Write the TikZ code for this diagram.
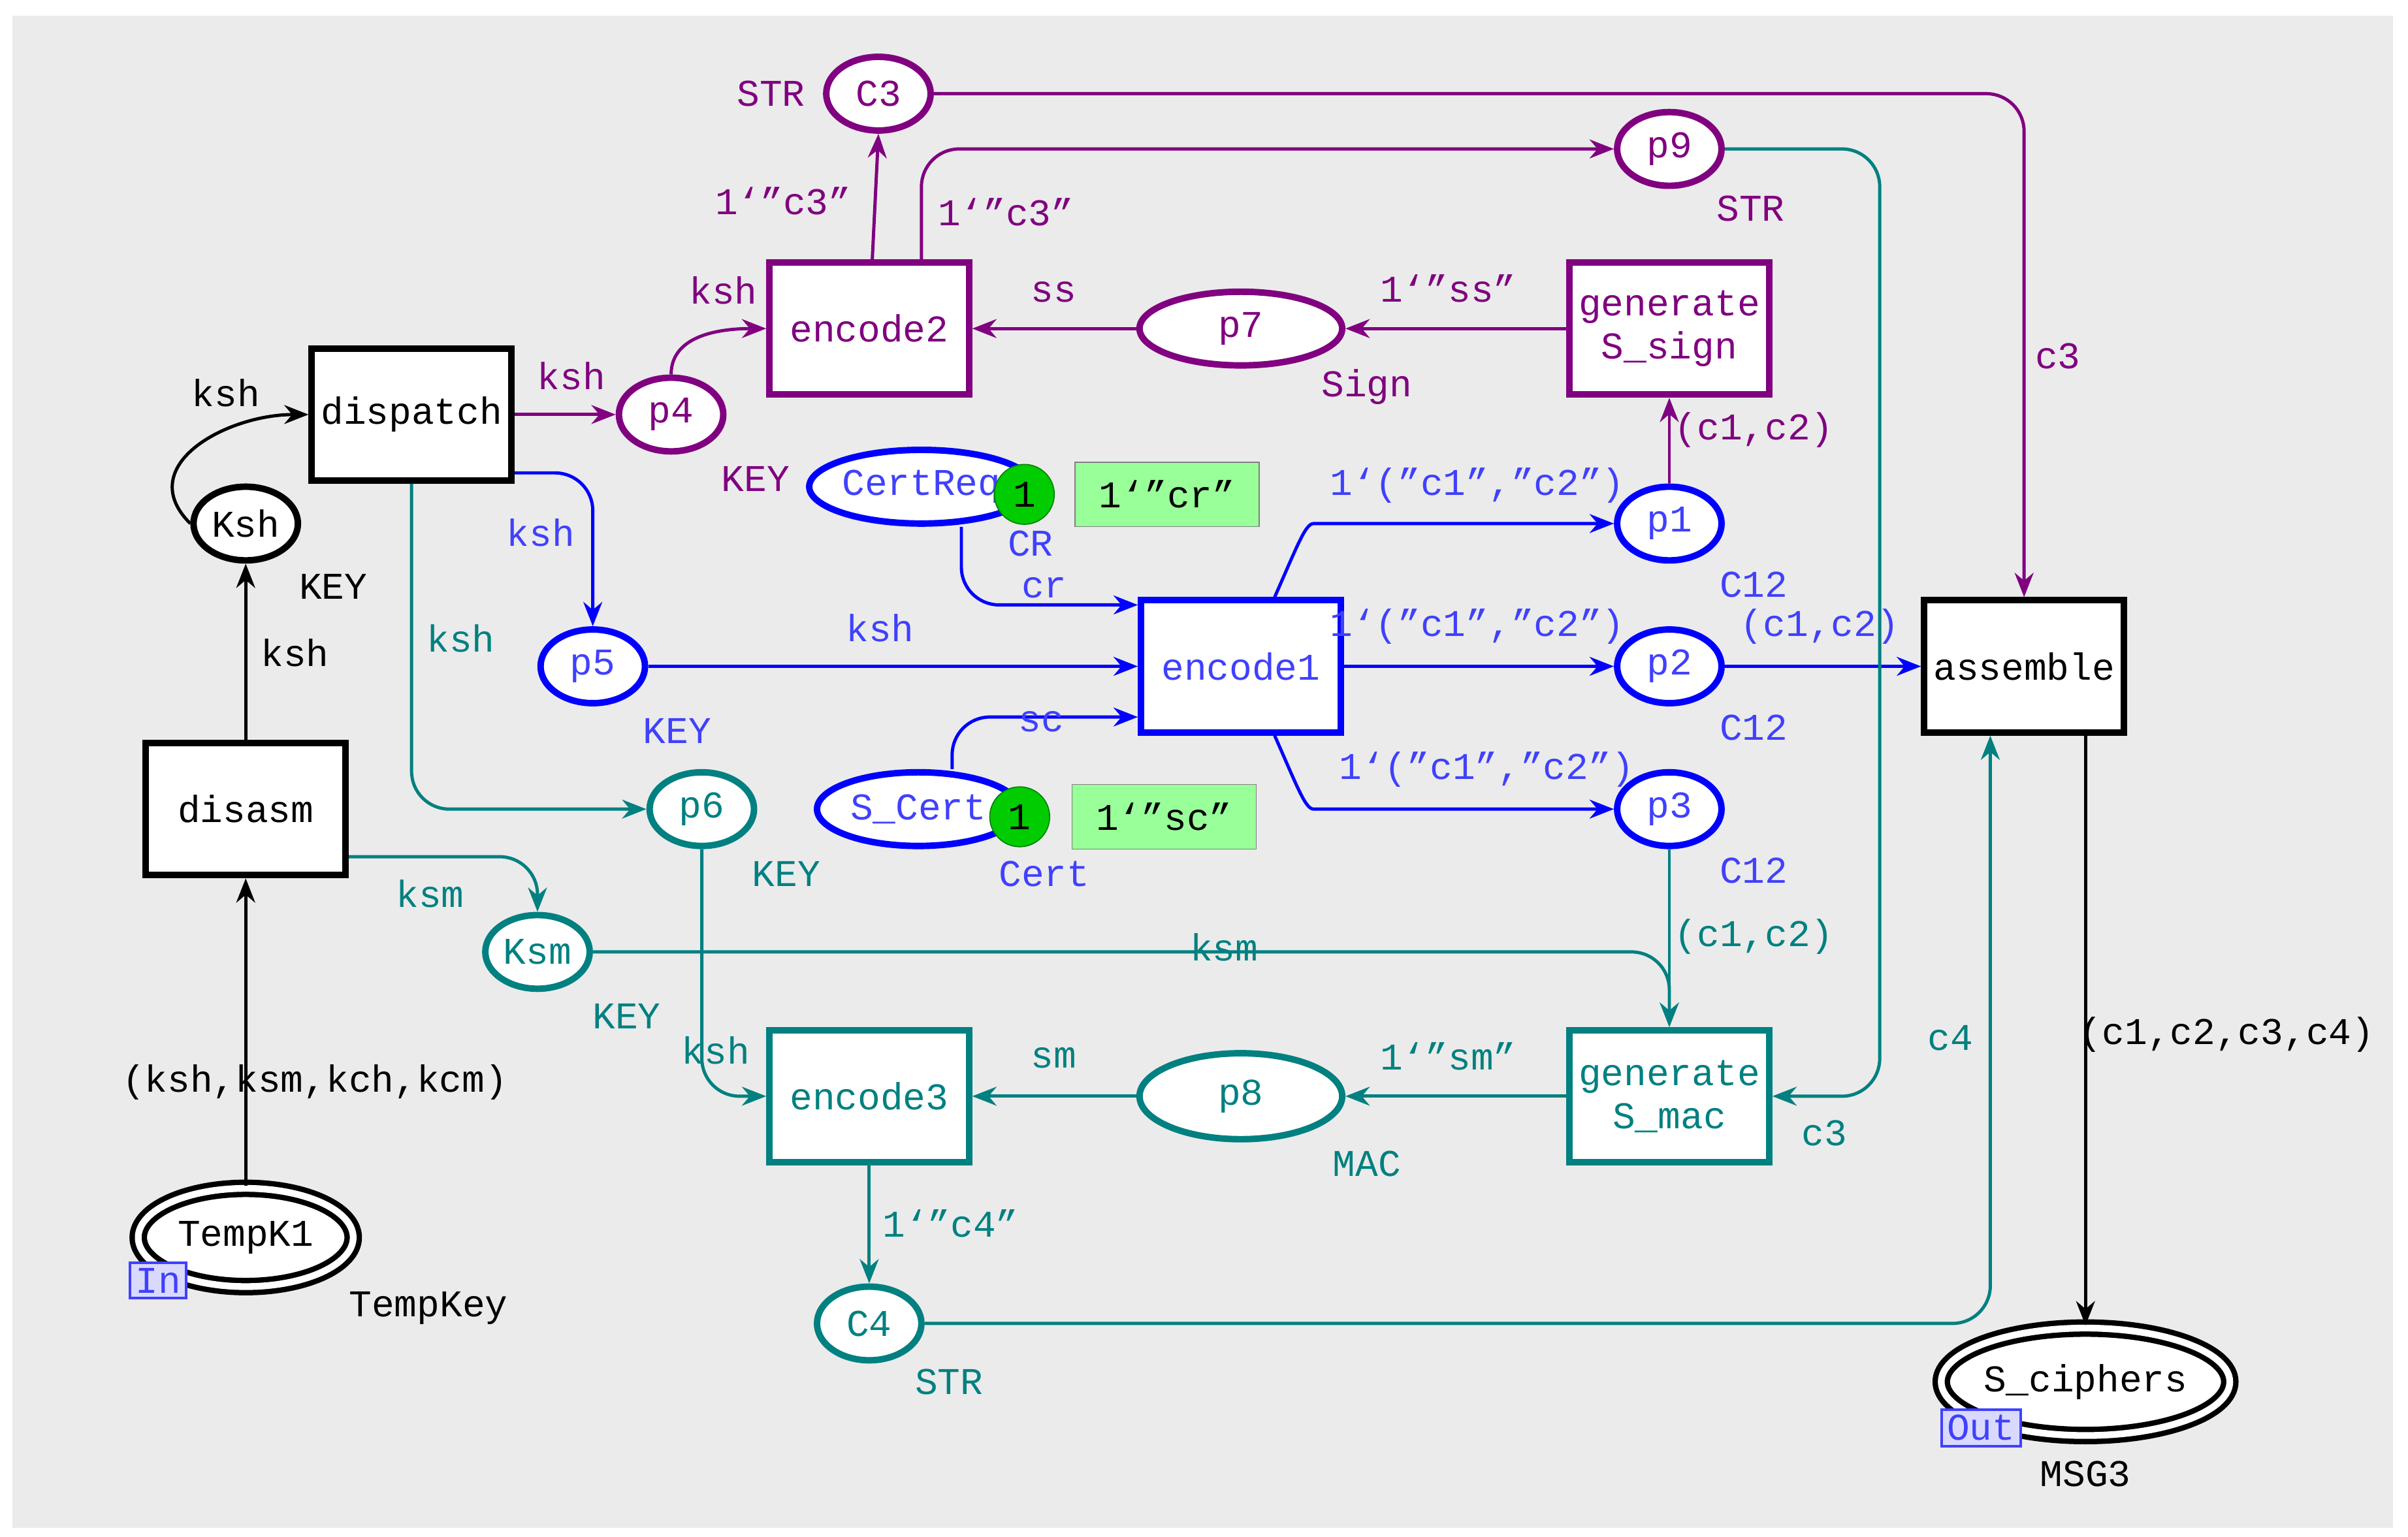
\documentclass[tikz,border=0pt]{standalone}
\usepackage{fontspec}
\setmainfont[Ligatures=ResetAll]{Liberation Mono}
\usetikzlibrary{arrows.meta,shapes.geometric}
\definecolor{pu}{HTML}{800080}
\definecolor{bl}{HTML}{0000FF}
\definecolor{blt}{HTML}{4040FF}
\definecolor{te}{HTML}{008080}
\definecolor{bg}{HTML}{EBEBEB}
\newcommand{\dq}{\symbol{34}}
\newcommand{\bq}{\symbol{96}}
\begin{document}
\begin{tikzpicture}[x=0.02cm,y=-0.02cm,
  every node/.style={font=\fontsize{14}{16}\selectfont},
  tr/.style={draw,line width=2.4pt,fill=white,minimum width=2.6cm,minimum height=1.72cm,inner sep=0pt,align=center},
  pl/.style={draw,line width=2.4pt,fill=white,ellipse,minimum width=1.36cm,minimum height=0.96cm,inner sep=0pt},
  wpl/.style={pl,minimum width=2.64cm},
  io/.style={draw,ellipse,line width=2pt,double,double distance=2.5pt,fill=white,inner sep=0pt},
  tag/.style={draw=blt,fill=blue!15,text=blt,inner sep=2pt,line width=1pt},
  tok/.style={circle,fill=green!80!black,draw=green!50!black,minimum size=0.78cm,inner sep=0pt},
  mk/.style={fill=green!40,draw=gray,minimum width=2.4cm,minimum height=0.84cm,inner sep=0pt},
  a/.style={line width=1.2pt,-{Stealth[length=9pt,width=7pt]},rounded corners=14pt},
  lb/.style={inner sep=0pt}]
\fill[white] (0,0) rectangle (1568,1001);
\fill[bg] (8,10) rectangle (1558,995);
% places
\node[pl,draw=pu,text=pu] (C3) at (572,61) {C3};
\node[pl,draw=pu,text=pu] (p9) at (1087,97) {p9};
\node[wpl,draw=pu,text=pu] (p7) at (808,214) {p7};
\node[pl,draw=pu,text=pu] (p4) at (437,270) {p4};
\node[pl] (Ksh) at (160,341) {Ksh};
\node[wpl,draw=bl,text=blt] (CR) at (600,317) {CertReq};
\node[pl,draw=bl,text=blt] (p1) at (1087,341) {p1};
\node[pl,draw=bl,text=blt] (p5) at (386,434) {p5};
\node[pl,draw=bl,text=blt] (p2) at (1087,434) {p2};
\node[pl,draw=te,text=te] (p6) at (457,527) {p6};
\node[wpl,draw=bl,text=blt] (SC) at (598,527) {S\_Cert};
\node[pl,draw=bl,text=blt] (p3) at (1087,527) {p3};
\node[pl,draw=te,text=te] (Ksm) at (350,620) {Ksm};
\node[wpl,draw=te,text=te,minimum height=1.12cm] (p8) at (808,714) {p8};
\node[pl,draw=te,text=te] (C4) at (566,862) {C4};
\node[io,minimum width=2.8cm,minimum height=1.28cm] (TK) at (160,806) {TempK1};
\node[io,minimum width=3.4cm,minimum height=1.4cm] (SCi) at (1358,900) {S\_ciphers};
\node[tag] (tin) at (103,834) {In};
\node[tag] (tout) at (1290,930) {Out};
% tokens
\node[tok] (t1) at (667,322) {1};
\node[mk] (m1) at (760,322) {1\bq\dq cr\dq};
\node[tok] (t2) at (664,532) {1};
\node[mk] (m2) at (758,532) {1\bq\dq sc\dq};
% transitions
\node[tr,draw=pu,text=pu] (enc2) at (566,214) {encode2};
\node[tr,draw=pu,text=pu] (gss) at (1087,214) {generate\\S\_sign};
\node[tr] (disp) at (268,270) {dispatch};
\node[tr,draw=bl,text=blt] (enc1) at (808,434) {encode1};
\node[tr] (asm) at (1318,434) {assemble};
\node[tr] (dis) at (160,527) {disasm};
\node[tr,draw=te,text=te] (enc3) at (566,714) {encode3};
\node[tr,draw=te,text=te] (gsm) at (1087,714) {generate\\S\_mac};
% colour-set labels
\node[lb,text=pu] at (502,61) {STR};
\node[lb,text=pu] at (1140,136) {STR};
\node[lb,text=pu] at (890,252) {Sign};
\node[lb,text=pu] at (492,312) {KEY};
\node[lb] at (217,382) {KEY};
\node[lb,text=blt] at (671,354) {CR};
\node[lb,text=blt] at (1142,381) {C12};
\node[lb,text=blt] at (441,476) {KEY};
\node[lb,text=blt] at (1142,474) {C12};
\node[lb,text=te] at (512,569) {KEY};
\node[lb,text=blt] at (680,569) {Cert};
\node[lb,text=blt] at (1142,567) {C12};
\node[lb,text=te] at (408,662) {KEY};
\node[lb,text=te] at (890,758) {MAC};
\node[lb,text=te] at (618,900) {STR};
\node[lb] at (279,852) {TempKey};
\node[lb] at (1358,960) {MSG3};
% arcs purple
\draw[a,pu] (C3.east) -- (1318,61) -- (asm.north);
\node[lb,text=pu] at (1340,232) {c3};
\draw[a,pu] (enc2.north-|568,0) -- (C3.south);
\node[lb,text=pu] at (510,131) {1\bq\dq c3\dq};
\draw[a,pu] (enc2.north-|600,0) -- (600,97) -- (p9.west);
\node[lb,text=pu] at (655,138) {1\bq\dq c3\dq};
\draw[a,pu] (p7) -- (enc2);
\node[lb,text=pu] at (686,190) {ss};
\draw[a,pu] (gss) -- (p7);
\node[lb,text=pu] at (943,188) {1\bq\dq ss\dq};
\draw[a,pu] (p1) -- (gss);
\node[lb,text=pu] at (1142,280) {(c1,c2)};
\draw[a,pu] (disp) -- (p4);
\node[lb,text=pu] at (372,245) {ksh};
\draw[a,pu] (p4.north) to[out=90,in=180] (enc2.west|-0,214);
\node[lb,text=pu] at (471,189) {ksh};
% black
\draw[a,black] (Ksh.west) to[out=135,in=180,looseness=1.3] (disp.west);
\node[lb] at (147,256) {ksh};
\draw[a,black] (dis) -- (Ksh);
\node[lb] at (192,425) {ksh};
\draw[a,black] (TK) -- (dis);
\node[lb] at (205,705) {(ksh,ksm,kch,kcm)};
\draw[a,black] (asm.south-|1358,0) -- (SCi.north);
\node[lb] at (1450,674) {(c1,c2,c3,c4)};
% blue
\draw[a,bl] (disp.east|-0,308) -- (386,308) -- (p5.north);
\node[lb,text=blt] at (352,347) {ksh};
\draw[a,bl] (p5) -- (enc1);
\node[lb,text=blt] at (573,409) {ksh};
\draw[a,bl] (CR.south-|626,0) -- (626,394) -- (enc1.west|-0,394);
\node[lb,text=blt] at (680,383) {cr};
\draw[a,bl] (SC.north-|620,0) -- (620,467) -- (enc1.west|-0,467);
\node[lb,text=blt] at (678,470) {sc};
\draw[a,bl] (enc1.north-|830,0) .. controls (845,355) and (850,341) .. (880,341) -- (p1.west);
\node[lb,text=blt] at (962,316) {1\bq(\dq c1\dq,\dq c2\dq)};
\draw[a,bl] (enc1) -- (p2);
\node[lb,text=blt] at (962,408) {1\bq(\dq c1\dq,\dq c2\dq)};
\draw[a,bl] (enc1.south-|830,0) .. controls (845,513) and (850,527) .. (880,527) -- (p3.west);
\node[lb,text=blt] at (968,501) {1\bq(\dq c1\dq,\dq c2\dq)};
\draw[a,bl] (p2) -- (asm);
\node[lb,text=blt] at (1185,408) {(c1,c2)};
% teal
\draw[a,te] (disp.south) -- (268,527) -- (p6.west);
\node[lb,text=te] at (300,416) {ksh};
\draw[a,te] (p9.east) -- (1224,97) -- (1224,714) -- (gsm.east);
\node[lb,text=te] at (1188,738) {c3};
\draw[a,te] (p3) -- (gsm);
\node[lb,text=te] at (1142,610) {(c1,c2)};
\draw[a,te] (dis.east|-0,558) -- (350,558) -- (Ksm.north);
\node[lb,text=te] at (280,582) {ksm};
\draw[a,te] (Ksm.east) -- (1087,620) -- (gsm.north);
\node[lb,text=te] at (797,617) {ksm};
\draw[a,te] (p6.south) -- (457,714) -- (enc3.west);
\node[lb,text=te] at (466,684) {ksh};
\draw[a,te] (p8) -- (enc3);
\node[lb,text=te] at (686,689) {sm};
\draw[a,te] (gsm) -- (p8);
\node[lb,text=te] at (943,688) {1\bq\dq sm\dq};
\draw[a,te] (enc3) -- (C4);
\node[lb,text=te] at (619,797) {1\bq\dq c4\dq};
\draw[a,te] (C4.east) -- (1296,862) -- (asm.south-|1296,0);
\node[lb,text=te] at (1270,676) {c4};
\end{tikzpicture}
\end{document}
